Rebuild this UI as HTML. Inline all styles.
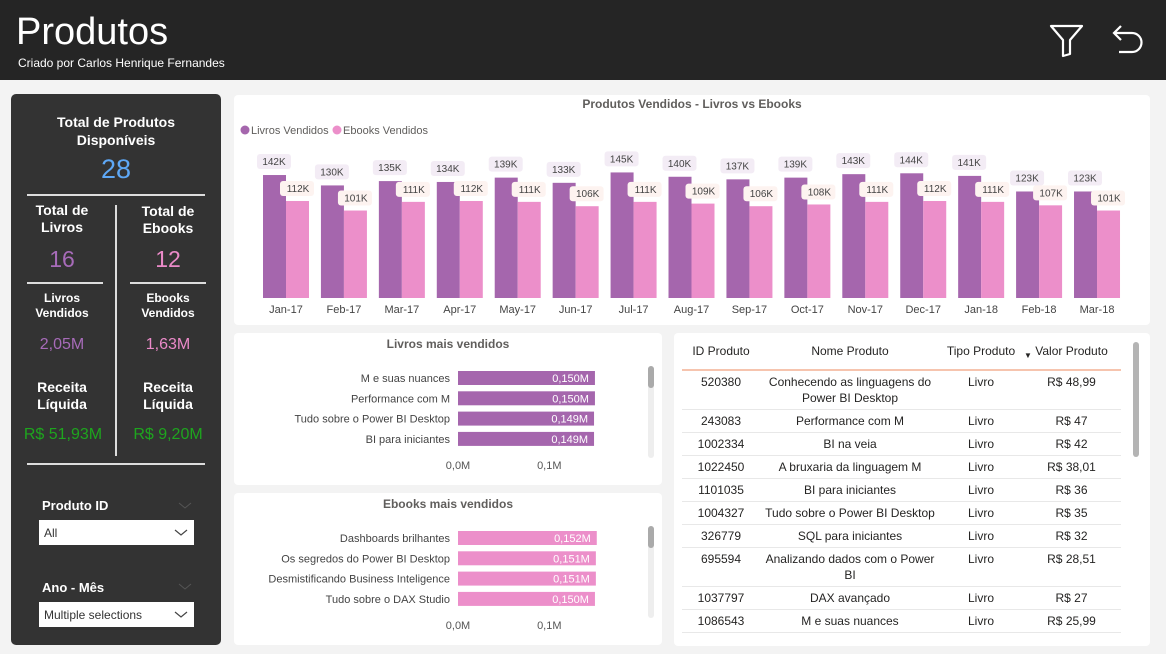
<!DOCTYPE html>
<html><head><meta charset="utf-8">
<style>
*{box-sizing:border-box;margin:0;padding:0}
body{width:1166px;height:654px;overflow:hidden;background:#f3f3f3;font-family:"Liberation Sans",sans-serif;position:relative}
.abs{position:absolute}
.hdr{left:0;top:0;width:1166px;height:80px;background:#252525}
.card{background:#fff;border-radius:4px}
.lp{left:11px;top:94px;width:210px;height:551px;background:#333;border-radius:5px;color:#fff}
.c{text-align:center;font-weight:bold}
</style></head><body>
<div class="abs hdr">
  <div class="abs" style="left:16px;top:11px;font-size:38px;color:#fff">Produtos</div>
  <div class="abs" style="left:18px;top:56px;font-size:12px;color:#fff">Criado por Carlos Henrique Fernandes</div>
  <svg class="abs" style="left:1048px;top:22px" width="38" height="36"><path d="M3 4 H34 L22 18 V32 L15 34 V18 Z" fill="none" stroke="#fff" stroke-width="2.2" stroke-linejoin="round"/></svg>
  <svg class="abs" style="left:1110px;top:22px" width="36" height="36"><path d="M11 4 L4 11 L11 18 M4 11 H22 A9 9 0 0 1 22 30 H9" fill="none" stroke="#fff" stroke-width="2.2"/></svg>
</div>

<div class="abs lp">
  <div class="abs c" style="left:0;width:210px;top:19px;font-size:14px;line-height:18px">Total de Produtos<br>Disponíveis</div>
  <div class="abs c" style="left:0;width:210px;top:60px;font-size:27px;color:#5ea8f6;font-weight:normal">28</div>
  <div class="abs" style="left:16px;top:100px;width:178px;height:2px;background:#ddd"></div>
  <div class="abs" style="left:104px;top:111px;width:2px;height:251px;background:#ddd"></div>
  <div class="abs c" style="left:0;width:102px;top:108px;font-size:14px;line-height:17px">Total de<br>Livros</div>
  <div class="abs c" style="left:106px;width:102px;top:109px;font-size:14px;line-height:17px">Total de<br>Ebooks</div>
  <div class="abs c" style="left:0;width:102px;top:152px;font-size:23px;color:#a76bb9;font-weight:normal">16</div>
  <div class="abs c" style="left:106px;width:102px;top:152px;font-size:23px;color:#ea8ac8;font-weight:normal">12</div>
  <div class="abs" style="left:16px;top:188px;width:76px;height:2px;background:#ddd"></div>
  <div class="abs" style="left:119px;top:188px;width:76px;height:2px;background:#ddd"></div>
  <div class="abs c" style="left:0;width:102px;top:197px;font-size:12px;line-height:15px">Livros<br>Vendidos</div>
  <div class="abs c" style="left:106px;width:102px;top:197px;font-size:12px;line-height:15px">Ebooks<br>Vendidos</div>
  <div class="abs c" style="left:0;width:102px;top:242px;font-size:16px;color:#a76bb9;font-weight:normal">2,05M</div>
  <div class="abs c" style="left:106px;width:102px;top:242px;font-size:16px;color:#ea8ac8;font-weight:normal">1,63M</div>
  <div class="abs c" style="left:0;width:102px;top:285px;font-size:14px;line-height:17px">Receita<br>Líquida</div>
  <div class="abs c" style="left:106px;width:102px;top:285px;font-size:14px;line-height:17px">Receita<br>Líquida</div>
  <div class="abs c" style="left:0;width:104px;top:332px;font-size:16px;color:#1ea51e;font-weight:normal">R$ 51,93M</div>
  <div class="abs c" style="left:106px;width:102px;top:332px;font-size:16px;color:#1ea51e;font-weight:normal">R$ 9,20M</div>
  <div class="abs" style="left:16px;top:369px;width:178px;height:2px;background:#ddd"></div>
  <div class="abs" style="left:31px;top:404px;font-size:13px;font-weight:bold">Produto ID</div>
  <svg class="abs" style="left:167px;top:408px" width="14" height="8"><path d="M1 1 L7 6 L13 1" fill="none" stroke="#555" stroke-width="1"/></svg>
  <div class="abs" style="left:28px;top:426px;width:155px;height:25px;background:#fff;color:#333;font-size:12px;padding:6px 5px">All<svg style="position:absolute;right:6px;top:9px" width="14" height="8"><path d="M1 1 L7 6 L13 1" fill="none" stroke="#444" stroke-width="1.2"/></svg></div>
  <div class="abs" style="left:31px;top:486px;font-size:13px;font-weight:bold">Ano - Mês</div>
  <svg class="abs" style="left:167px;top:489px" width="14" height="8"><path d="M1 1 L7 6 L13 1" fill="none" stroke="#555" stroke-width="1"/></svg>
  <div class="abs" style="left:28px;top:508px;width:155px;height:25px;background:#fff;color:#333;font-size:12px;padding:6px 5px">Multiple selections<svg style="position:absolute;right:6px;top:9px" width="14" height="8"><path d="M1 1 L7 6 L13 1" fill="none" stroke="#444" stroke-width="1.2"/></svg></div>
</div>

<div class="abs card" style="left:234px;top:95px;width:916px;height:230px">
  <svg id="main" width="916" height="230"></svg>
</div>
<div class="abs card" style="left:234px;top:333px;width:428px;height:152px">
  <svg id="livros" width="428" height="152"></svg>
</div>
<div class="abs card" style="left:234px;top:493px;width:428px;height:152px">
  <svg id="ebooks" width="428" height="152"></svg>
</div>
<div class="abs card" style="left:674px;top:333px;width:476px;height:313px;overflow:hidden">
  <div class="abs" style="left:459px;top:9px;width:6px;height:115px;background:#b4b4b4;border-radius:3px"></div>
  <div id="tbl" class="abs" style="left:8px;top:0;width:439px;height:303px;overflow:hidden"></div>
</div>

<script>
const NS='http://www.w3.org/2000/svg';
function mk(p,t,a,txt){const e=document.createElementNS(NS,t);for(const k in a)e.setAttribute(k,a[k]);if(txt!=null)e.textContent=txt;p.appendChild(e);return e;}
const months=['Jan-17','Feb-17','Mar-17','Apr-17','May-17','Jun-17','Jul-17','Aug-17','Sep-17','Oct-17','Nov-17','Dec-17','Jan-18','Feb-18','Mar-18'];
const livrosVendidos=[142,130,135,134,139,133,145,140,137,139,143,144,141,123,123];
const ebooksVendidos=[112,101,111,112,111,106,111,109,106,108,111,112,111,107,101];
const livrosNames=['M e suas nuances','Performance com M','Tudo sobre o Power BI Desktop','BI para iniciantes'];
const livrosValues=[0.150,0.150,0.149,0.149];
const ebooksNames=['Dashboards brilhantes','Os segredos do Power BI Desktop','Desmistificando Business Inteligence','Tudo sobre o DAX Studio'];
const ebooksValues=[0.152,0.151,0.151,0.150];
const hTicks=[0,0.1];
const tableRows=[['520380','Conhecendo as linguagens do Power BI Desktop','Livro','R$ 48,99'],['243083','Performance com M','Livro','R$ 47'],['1002334','BI na veia','Livro','R$ 42'],['1022450','A bruxaria da linguagem M','Livro','R$ 38,01'],['1101035','BI para iniciantes','Livro','R$ 36'],['1004327','Tudo sobre o Power BI Desktop','Livro','R$ 35'],['326779','SQL para iniciantes','Livro','R$ 32'],['695594','Analizando dados com o Power BI','Livro','R$ 28,51'],['1037797','DAX avançado','Livro','R$ 27'],['1086543','M e suas nuances','Livro','R$ 25,99'],['1013793','Crepúsculo do DAX','Livro','R$ 24,01']];
const PURPLE='#a566ad',PINK='#ec8fca';

(function(){
  const s=document.getElementById('main');
  const y=v=>203-v*0.866, x0=i=>52+i*57.93, bw=23;
  const t=mk(s,'text',{x:458,y:13,'text-anchor':'middle','font-size':12,'font-weight':'bold',fill:'#605e5c'},'Produtos Vendidos - Livros vs Ebooks');
  
  
  const l1=mk(s,'circle',{cx:11,cy:35,r:4.5,fill:PURPLE});
  
  
  mk(s,'text',{x:17,y:39,'font-size':11,fill:'#605e5c'},'Livros Vendidos');
  const l2=mk(s,'circle',{cx:103,cy:35,r:4.5,fill:PINK});
  
  
  mk(s,'text',{x:109,y:39,'font-size':11,fill:'#605e5c'},'Ebooks Vendidos');
  months.forEach((m,i)=>{
    const c=x0(i);
    const b1=mk(s,'rect',{x:c-bw,y:y(livrosVendidos[i]),width:bw,height:203-y(livrosVendidos[i]),fill:PURPLE});
    
    
    const b2=mk(s,'rect',{x:c,y:y(ebooksVendidos[i]),width:bw,height:203-y(ebooksVendidos[i]),fill:PINK});
    
    
    const ly=y(livrosVendidos[i])-21;
    mk(s,'rect',{x:c-29,y:ly,width:34,height:15,rx:3,fill:'#f3ecf5'});
    const lt=mk(s,'text',{x:c-12,y:ly+11,'text-anchor':'middle','font-size':10,fill:'#444'},livrosVendidos[i]+'K');
    
    
    const ey=y(ebooksVendidos[i])-20;
    mk(s,'rect',{x:c-6,y:ey,width:34,height:15,rx:3,fill:'#fdf3f0'});
    const et=mk(s,'text',{x:c+12,y:ey+11,'text-anchor':'middle','font-size':10,fill:'#444'},ebooksVendidos[i]+'K');
    
    
    const xt=mk(s,'text',{x:c,y:218,'text-anchor':'middle','font-size':11,fill:'#444'},m);
    
    
  });
})();

function hbar(id,title,names,vals,color){
  const s=document.getElementById(id);
  const x=v=>224+v*913;
  const t=mk(s,'text',{x:214,y:15,'text-anchor':'middle','font-size':12,'font-weight':'bold',fill:'#605e5c'},title);
  
  
  names.forEach((n,i)=>{
    const yy=38+i*20.3;
    const lb=mk(s,'text',{x:216,y:yy+11,'text-anchor':'end','font-size':11,fill:'#444'},n);
    
    
    const b=mk(s,'rect',{x:x(0),y:yy,width:x(vals[i])-x(0),height:14,fill:color});
    
    
    const v=mk(s,'text',{x:x(vals[i])-6,y:yy+11,'text-anchor':'end','font-size':11,fill:'#fff'},vals[i].toFixed(3).replace('.',',')+'M');
    
    
  });
  hTicks.forEach(tk=>{
    const e=mk(s,'text',{x:x(tk),y:136,'text-anchor':'middle','font-size':11,fill:'#555'},tk.toFixed(1).replace('.',',')+'M');
    
    
  });
  mk(s,'rect',{x:414,y:33,width:6,height:92,rx:3,fill:'#eee'});
  const sb=mk(s,'rect',{x:414,y:33,width:6,height:22,rx:3,fill:'#aaa'});
  
  
}
hbar('livros','Livros mais vendidos',livrosNames,livrosValues,PURPLE);
hbar('ebooks','Ebooks mais vendidos',ebooksNames,ebooksValues,PINK);

(function(){
  const d=document.getElementById('tbl');
  const cols=[78,180,82,99];
  let h='<div style="display:flex;height:38px;border-bottom:2px solid #f6c4ae;align-items:center;font-size:12px;color:#252423">';
  ['ID Produto','Nome Produto','Tipo Produto','Valor Produto'].forEach((c,i)=>{h+='<div style="width:'+cols[i]+'px;text-align:center;position:relative;white-space:nowrap">'+c+(i==3?'<span style="position:absolute;left:2px;top:7px;font-size:8px">&#9660;</span>':'')+'</div>';});
  h+='</div>';
  tableRows.forEach(r=>{
    h+='<div style="display:flex;border-bottom:1px solid #e8e8e8;padding:3px 0 3px;font-size:12px;color:#252423;line-height:16px">';
    r.forEach((c,i)=>{h+='<div style="width:'+cols[i]+'px;text-align:center;padding:0 2px">'+c+'</div>';});
    h+='</div>';
  });
  d.innerHTML=h;
})();
</script>
</body></html>
